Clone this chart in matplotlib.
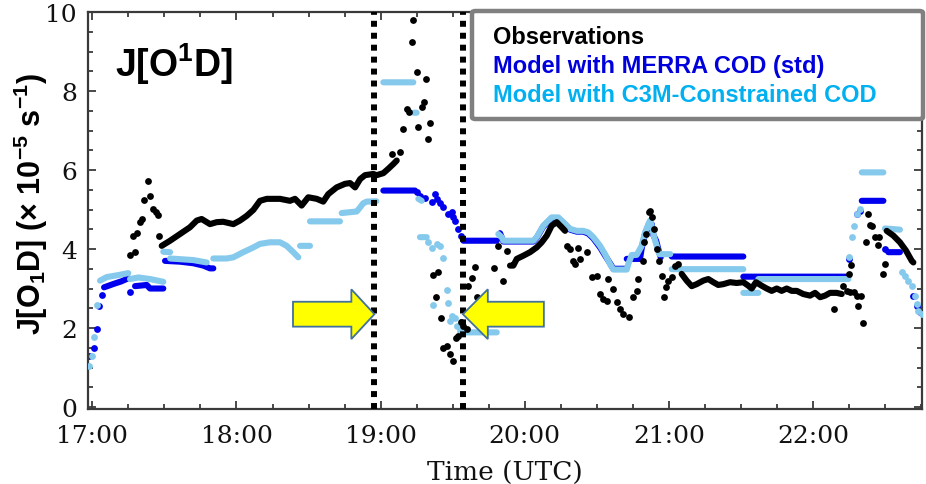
import numpy as np
import matplotlib
matplotlib.use('Agg')
import matplotlib.pyplot as plt
from matplotlib.patches import FancyArrow, FancyBboxPatch
from matplotlib.ticker import MultipleLocator, FuncFormatter

nan = np.nan

# Time in decimal hours UTC, J[O1D] in 1e-5 s^-1.
# *_trace: dense runs (nan = gap), *_dot: isolated samples

obs_trace_t = [17.481, 17.539, 17.608, 17.677, 17.724, 17.758, 17.816, 17.863, 17.908, 17.978,
               18.024, 18.071, 18.117, 18.163, 18.210, 18.302, 18.371, 18.406, 18.452, 18.498,
               18.557, 18.602, 18.637, 18.695, 18.753, 18.788, 18.823, 18.858, 18.892, 18.949,
               18.973, 19.019, 19.053, 19.088, 19.112, nan,
               19.898, 19.921, 19.945, 19.990, 20.037, 20.083, 20.118, 20.153, 20.187, 20.222,
               20.257, 20.280, nan,
               21.089, 21.124, 21.159, 21.193, 21.239, 21.274, 21.309, 21.343, 21.378, 21.425,
               21.471, 21.517, 21.552, 21.575, 21.605, 21.645, 21.679, 21.714, 21.749, 21.783,
               21.818, 21.853, 21.888, 21.933, 21.980, 22.015, 22.050, 22.084, 22.119, 22.165,
               22.200, nan,
               22.512, 22.558, 22.604, 22.646, 22.686, 22.697]
obs_trace_v = [4.08, 4.21, 4.38, 4.55, 4.72, 4.76, 4.63, 4.68, 4.69, 4.63,
               4.72, 4.84, 4.99, 5.22, 5.27, 5.27, 5.22, 5.27, 5.10, 5.31,
               5.27, 5.20, 5.39, 5.56, 5.65, 5.67, 5.56, 5.77, 5.87, 5.90,
               5.87, 5.92, 6.03, 6.15, 6.24, nan,
               3.58, 3.58, 3.75, 3.83, 3.92, 4.04, 4.17, 4.34, 4.59, 4.68,
               4.55, 4.46, nan,
               3.37, 3.20, 3.06, 3.11, 3.20, 3.24, 3.16, 3.09, 3.11, 3.16,
               3.14, 3.16, 3.07, 3.00, 3.16, 3.07, 3.00, 2.94, 3.00, 2.94,
               3.00, 2.94, 2.94, 2.86, 2.82, 2.89, 2.78, 2.82, 2.89, 2.89,
               2.86, nan,
               4.46, 4.34, 4.17, 3.96, 3.70, 3.66]

obs_dot_t = [17.261, 17.296, 17.284, 17.312, 17.330, 17.342, 17.360, 17.400, 17.384, 17.418,
             17.441, 17.453, 17.464,
             19.135, 19.077, 19.158, 19.199, 19.181, 19.262, 19.285, 19.301, 19.343, 19.331,
             19.250, 19.315, 19.216, 19.227,
             19.366, 19.400, 19.384, 19.417, 19.435, 19.463, 19.482, 19.500, 19.523, 19.539,
             19.556, 19.574, 19.597, 19.609, 19.632, 19.655, 19.667, 19.787, 19.817, 19.852,
             19.875,
             20.292, 20.315, 20.372, 20.337, 20.350, 20.384, 20.430, 20.465, 20.500, 20.523,
             20.545, 20.569, 20.580, 20.615, 20.643, 20.661, 20.684, 20.726, 20.754, 20.777,
             20.788, 20.823, 20.828, 20.842, 20.865, 20.870, 20.881, 20.898, 20.916, 20.934,
             20.951, 20.981, 20.967, 20.997, 21.020, 21.043, 21.066,
             22.146, 22.212, 22.235, 22.258, 22.286, 22.304, 22.316, 22.333, 22.350, 22.249,
             22.265, 22.366, 22.382, 22.394, 22.412, 22.428, 22.458, 22.451, 22.500, 22.484]
obs_dot_v = [3.85, 3.93, 4.32, 4.40, 4.69, 4.76, 5.24, 5.35, 5.73, 5.01,
             4.94, 4.86, 4.32,
             6.45, 6.40, 7.04, 7.46, 7.54, 7.08, 7.59, 7.71, 7.19, 6.78,
             8.47, 8.30, 9.23, 9.80,
             3.34, 3.41, 2.79, 2.25, 1.49, 1.55, 1.34, 1.17, 1.74, 1.80,
             2.14, 2.06, 1.97, 3.06, 3.26, 3.54, 2.78, 3.52, 4.08, 3.20,
             3.96,
             4.08, 4.00, 4.02, 3.70, 3.62, 3.75, 3.92, 3.28, 3.32, 2.86,
             2.73, 2.69, 3.24, 2.99, 2.65, 2.48, 2.35, 2.27, 2.78, 2.94,
             3.24, 3.70, 4.17, 4.38, 4.93, 4.97, 4.80, 4.51, 4.00, 3.70,
             3.32, 3.03, 2.78, 3.20, 3.28, 3.58, 3.62,
             2.48, 3.06, 2.94, 2.90, 2.90, 2.82, 2.55, 2.82, 2.13, 3.37,
             3.59, 4.17, 4.89, 4.61, 4.59, 4.30, 4.30, 4.10, 3.62, 3.37]

merra_trace_t = [17.081, 17.150, 17.200, 17.249, nan,
                 17.296, 17.377, 17.400, 17.492, nan,
                 17.504, 17.608, 17.700, 17.770, 17.816, 17.839, nan,
                 19.019, 19.239, nan,
                 19.574, 19.806, nan,
                 19.829, 19.852, 20.060, 20.083, 20.129, 20.187, 20.233, 20.268, 20.315, 20.361,
                 20.407, 20.441, 20.476, 20.523, 20.557, 20.592, 20.615, 20.700, nan,
                 20.708, 20.800, 20.812, 20.835, 20.858, 20.881, 20.893, 20.912, 20.927, 20.944, nan,
                 21.020, 21.517, nan,
                 21.517, 22.246, nan,
                 22.339, 22.489, nan,
                 22.523, 22.604]
merra_trace_v = [3.03, 3.12, 3.18, 3.26, nan,
                 3.06, 3.09, 3.00, 3.00, nan,
                 3.70, 3.68, 3.64, 3.58, 3.51, 3.51, nan,
                 5.48, 5.48, nan,
                 4.21, 4.21, nan,
                 4.40, 4.19, 4.19, 4.28, 4.57, 4.78, 4.78, 4.66, 4.49, 4.44,
                 4.44, 4.39, 4.27, 4.04, 3.84, 3.64, 3.50, 3.50, nan,
                 3.75, 3.75, 4.02, 4.38, 4.59, 4.63, 4.35, 4.21, 4.00, 3.79, nan,
                 3.81, 3.81, nan,
                 3.30, 3.30, nan,
                 5.22, 5.22, nan,
                 3.92, 3.92]

merra_dot_t = [16.978, 17.011, 17.034, 17.048, 17.067, 17.261,
               19.250, 19.273, 19.308, 19.355, 19.378, 19.389, 19.412, 19.435, 19.470, 19.493,
               19.505, 19.516, 19.539, 19.556,
               22.253, 22.304, 22.327, 22.500, 22.697, 22.720, 22.743]
merra_dot_v = [1.30, 1.49, 1.97, 2.56, 2.84, 2.92,
               5.44, 5.35, 5.28, 5.18, 5.39, 5.27, 5.16, 5.06, 4.89, 4.93,
               4.80, 4.72, 4.51, 4.32,
               3.75, 4.89, 4.97, 4.00, 2.82, 2.56, 2.40]

c3m_trace_t = [17.053, 17.100, 17.180, 17.249, nan,
               17.261, 17.319, 17.400, 17.492, nan,
               17.492, 17.539, nan,
               17.539, 17.700, 17.793, nan,
               17.839, 17.932, 17.978, 18.047, 18.117, 18.163, 18.232, 18.302, 18.348, 18.394,
               18.429, nan,
               18.441, 18.510, nan,
               18.510, 18.718, nan,
               18.730, 18.834, 18.857, 18.880, 18.904, 18.970, nan,
               19.019, 19.227, nan,
               19.230, 19.250, nan,
               19.262, 19.285, nan,
               19.273, 19.320, nan,
               19.563, 19.806, nan,
               19.817, 19.840, 19.852, 20.060, 20.083, 20.129, 20.187, 20.233, 20.268, 20.315,
               20.361, 20.407, 20.441, 20.476, 20.523, 20.557, 20.592, 20.615, 20.708, 20.719,
               20.743, 20.777, 20.812, 20.835, 20.858, 20.870, 20.881, 20.898, 20.916, 20.934,
               21.010, nan,
               21.020, 21.517, nan,
               21.517, 21.621, nan,
               21.621, 22.246, nan,
               22.339, 22.489, nan,
               22.500, 22.604]
c3m_trace_v = [3.20, 3.29, 3.34, 3.39, nan,
               3.24, 3.28, 3.24, 3.17, nan,
               3.93, 3.92, nan,
               3.76, 3.72, 3.66, nan,
               3.76, 3.76, 3.79, 3.92, 4.04, 4.13, 4.17, 4.17, 4.08, 3.92,
               3.79, nan,
               4.08, 4.08, nan,
               4.70, 4.70, nan,
               4.91, 4.95, 5.05, 5.16, 5.20, 5.21, nan,
               8.22, 8.22, nan,
               7.45, 7.45, nan,
               5.27, 5.22, nan,
               4.30, 4.30, nan,
               1.89, 1.89, nan,
               4.38, 4.30, 4.21, 4.21, 4.30, 4.59, 4.80, 4.80, 4.68, 4.51,
               4.46, 4.46, 4.42, 4.30, 4.08, 3.87, 3.62, 3.48, 3.48, 3.62,
               3.85, 3.85, 4.08, 4.42, 4.63, 4.72, 4.59, 4.30, 4.08, 3.87,
               3.87, nan,
               3.49, 3.49, nan,
               2.89, 2.89, nan,
               3.24, 3.24, nan,
               5.94, 5.94, nan,
               4.52, 4.49]

c3m_dot_t = [16.978, 16.995, 17.011, 17.030,
             19.331, 19.355, 19.389, 19.412, 19.435, 19.366, 19.459, 19.470, 19.493, 19.482,
             19.516, 19.528, 19.551,
             22.253, 22.269, 22.285, 22.304, 22.327,
             22.616, 22.639, 22.662, 22.686, 22.709, 22.720, 22.731, 22.755]
c3m_dot_v = [1.05, 1.30, 1.77, 2.58,
             4.17, 4.02, 4.13, 4.08, 3.76, 2.58, 2.97, 2.63, 2.31, 2.18,
             2.25, 2.04, 1.93,
             3.79, 4.30, 4.57, 4.89, 5.01,
             3.43, 3.32, 3.20, 3.07, 2.82, 2.61, 2.44, 2.35]

# cloud transect window (dotted lines) and arrow geometry
window_start = 18.957
window_end = 19.571
arrow_y = 2.35

series_names = ['Observations', 'Model with MERRA COD (std)', 'Model with C3M-Constrained COD']
text_colors = ['black', '#0000DD', '#00B0F0']

plt.rcParams['mathtext.fontset'] = 'custom'
plt.rcParams['mathtext.rm'] = 'Liberation Sans'
plt.rcParams['mathtext.bf'] = 'Liberation Sans:bold'

fig = plt.figure(figsize=(9.26, 4.85), dpi=100)
ax = fig.add_axes([88 / 926, 1 - 410 / 485, 834 / 926, 397 / 485])

dot_ms = 4.9
trace_lw = 4.4
def draw_series(tr_t, tr_v, d_t, d_v, color, z):
    ax.plot(tr_t, tr_v, color=color, lw=trace_lw, solid_capstyle='round',
            solid_joinstyle='round', zorder=z)
    ax.plot(d_t, d_v, 'o', color=color, ms=dot_ms, mew=0, zorder=z)

draw_series(merra_trace_t, merra_trace_v, merra_dot_t, merra_dot_v, '#0000EE', 2)
draw_series(c3m_trace_t, c3m_trace_v, c3m_dot_t, c3m_dot_v, '#85C9EC', 3)
draw_series(obs_trace_t, obs_trace_v, obs_dot_t, obs_dot_v, 'black', 4)

for xv in (window_start, window_end):
    ax.axvline(xv, color='black', lw=4.3, linestyle=(0, (1, 1)), dash_capstyle='butt', zorder=5)

arrow_kw = dict(width=0.63, head_width=1.26, length_includes_head=True,
                facecolor='#FFFF00', edgecolor='#41719C', lw=1.3, zorder=6)
ax.add_patch(FancyArrow(window_start - 0.565, arrow_y, 0.565, 0, head_length=0.16, **arrow_kw))
ax.add_patch(FancyArrow(window_end + 0.562, arrow_y, -0.562, 0, head_length=0.173, **arrow_kw))

ax.set_xlim(16.9695, 22.757)
ax.set_ylim(-0.05, 10.0)

ax.xaxis.set_major_locator(MultipleLocator(1))
ax.xaxis.set_minor_locator(MultipleLocator(0.25))
ax.xaxis.set_major_formatter(FuncFormatter(lambda h, pos: f'{int(round(h))}:00'))
ax.yaxis.set_major_locator(MultipleLocator(2))
ax.yaxis.set_minor_locator(MultipleLocator(0.5))

spine_col = '#3a3a3a'
for s in ax.spines.values():
    s.set_color(spine_col)
    s.set_linewidth(1.6)
ax.tick_params(which='both', direction='in', top=True, right=True, color=spine_col, width=1.3)
ax.tick_params(which='major', length=6)
ax.tick_params(which='minor', length=3.5)
ax.tick_params(axis='x', which='major', pad=11, labelsize=18, labelcolor='#111111')
ax.tick_params(axis='y', which='major', pad=8, labelsize=18, labelcolor='#111111')
for lab in ax.get_xticklabels() + ax.get_yticklabels():
    lab.set_fontfamily('DejaVu Serif')

ax.set_xlabel('Time (UTC)', fontfamily='DejaVu Serif', fontsize=19, labelpad=9, color='#111111')
ax.set_ylabel(r'J[O$_\mathbf{1}$D] (× 10$^\mathbf{-5}$ s$^\mathbf{-1}$)',
              fontfamily='Liberation Sans', fontweight='bold', fontsize=22, labelpad=0)
ax.yaxis.set_label_coords(-0.046, 0.52)

ax.text(0.032, 0.87, r'J[O$^\mathbf{1}$D]', transform=ax.transAxes, fontfamily='Liberation Sans',
        fontweight='bold', fontsize=27, va='center', ha='left', zorder=7)

# legend panel
box = FancyBboxPatch((472 / 926, 1 - 120 / 485), 451 / 926, 108 / 485,
                     boxstyle='round,pad=0,rounding_size=0.004', transform=fig.transFigure,
                     facecolor='white', edgecolor='#808080', lw=3.2, zorder=10, clip_on=False)
fig.patches.append(box)
for i, (name, col) in enumerate(zip(series_names, text_colors)):
    fig.text(493 / 926, 1 - (38 + 28.5 * i) / 485, name, color=col, fontfamily='Liberation Sans',
             fontweight='bold', fontsize=17, va='center', ha='left', zorder=11)

fig.savefig('out.png', dpi=100)
